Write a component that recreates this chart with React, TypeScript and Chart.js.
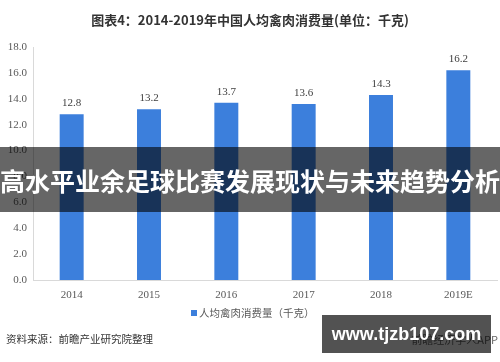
import React, { useEffect, useRef } from "react";
import { Chart, registerables } from "chart.js";

Chart.register(...registerables);

const categories = ["2014", "2015", "2016", "2017", "2018", "2019E"];
const values = [12.8, 13.2, 13.7, 13.6, 14.3, 16.2];
const seriesName = "人均禽肉消费量（千克）";
const titleText = "图表4：2014-2019年中国人均禽肉消费量(单位：千克)";
const sourceText = "资料来源：前瞻产业研究院整理";
const bannerText = "高水平业余足球比赛发展现状与未来趋势分析";
const siteText = "www.tjzb107.com";
const appText = "前瞻经济学人APP";

const BAR_COLOR = "#3c7fdc";
const SERIF = "'Liberation Serif', 'Times New Roman', serif";
const CJK = "'Noto Sans CJK SC', 'Noto Sans', sans-serif";

const valueLabels = {
  id: "valueLabels",
  afterDatasetsDraw(chart: any) {
    const ctx = chart.ctx;
    const meta = chart.getDatasetMeta(0);
    ctx.save();
    ctx.font = `11px ${SERIF}`;
    ctx.fillStyle = "#404040";
    ctx.textAlign = "center";
    ctx.textBaseline = "middle";
    meta.data.forEach((el: any, i: number) => {
      ctx.fillText(values[i].toFixed(1), el.x, el.y - 11);
    });
    ctx.restore();
  },
};

export default function App() {
  const ref = useRef<HTMLCanvasElement>(null);
  useEffect(() => {
    document.body.style.margin = "0";
    const chart = new Chart(ref.current!, {
      type: "bar",
      data: {
        labels: categories,
        datasets: [
          {
            label: seriesName,
            data: values,
            backgroundColor: BAR_COLOR,
            categoryPercentage: 1,
            barPercentage: 0.31,
          },
        ],
      },
      options: {
        responsive: false,
        animation: false,
        layout: { padding: { top: 47, right: 3, left: 0, bottom: 0 } },
        plugins: {
          legend: { display: false },
          title: { display: false },
          tooltip: { enabled: false },
        },
        scales: {
          x: {
            grid: { display: false, drawTicks: false },
            border: { display: true, color: "#d9d9d9" },
            ticks: { padding: 9, color: "#595959", font: { family: SERIF, size: 11 } },
            afterFit: (s: any) => {
              s.height = 82;
            },
          },
          y: {
            min: 0,
            max: 18,
            grid: { display: false, drawTicks: false },
            border: { display: true, color: "#d9d9d9" },
            ticks: {
              stepSize: 2,
              padding: 6,
              color: "#595959",
              font: { family: SERIF, size: 11 },
              callback: (v: any) => Number(v).toFixed(1),
            },
            afterFit: (s: any) => {
              s.width = 33;
            },
          },
        },
      },
      plugins: [valueLabels],
    });
    return () => chart.destroy();
  }, []);

  return (
    <div style={{ position: "absolute", left: 0, top: 0, width: 500, height: 362, background: "#fff", overflow: "hidden" }}>
      <canvas ref={ref} width={500} height={362} style={{ position: "absolute", left: 0, top: 0, display: "block" }} />
      <div
        style={{
          position: "absolute", left: 0, top: 11, width: 500, textAlign: "center",
          font: `bold 13px ${CJK}`, color: "#333", lineHeight: "18px",
        }}
      >
        {titleText}
      </div>
      <div
        style={{
          position: "absolute", left: 191, top: 306, display: "flex", alignItems: "center",
          font: `10.5px ${CJK}`, color: "#595959", lineHeight: "14px",
        }}
      >
        <span style={{ display: "inline-block", width: 6, height: 6, background: BAR_COLOR, marginRight: 2 }} />
        {seriesName}
      </div>
      <div
        style={{
          position: "absolute", left: 6, top: 331, font: `10.5px ${CJK}`, color: "#333", lineHeight: "15px",
        }}
      >
        {sourceText}
      </div>
      <div
        style={{
          position: "absolute", right: 2, top: 332, font: `11px ${CJK}`, color: "#666", lineHeight: "15px",
        }}
      >
        {appText}
      </div>
      <div
        style={{
          position: "absolute", left: 0, top: 147, width: 500, height: 65, background: "rgba(0,0,0,0.6)",
          display: "flex", alignItems: "center", justifyContent: "center",
          font: `bold 25px ${CJK}`, color: "#fff", whiteSpace: "nowrap",
        }}
      >
        {bannerText}
      </div>
      <div
        style={{
          position: "absolute", left: 322, top: 315, width: 169, height: 38, background: "rgba(0,0,0,0.68)",
          display: "flex", alignItems: "center", justifyContent: "center",
          font: `bold 18px 'Liberation Sans', Arial, sans-serif`, color: "#fff", whiteSpace: "nowrap",
        }}
      >
        {siteText}
      </div>
    </div>
  );
}
